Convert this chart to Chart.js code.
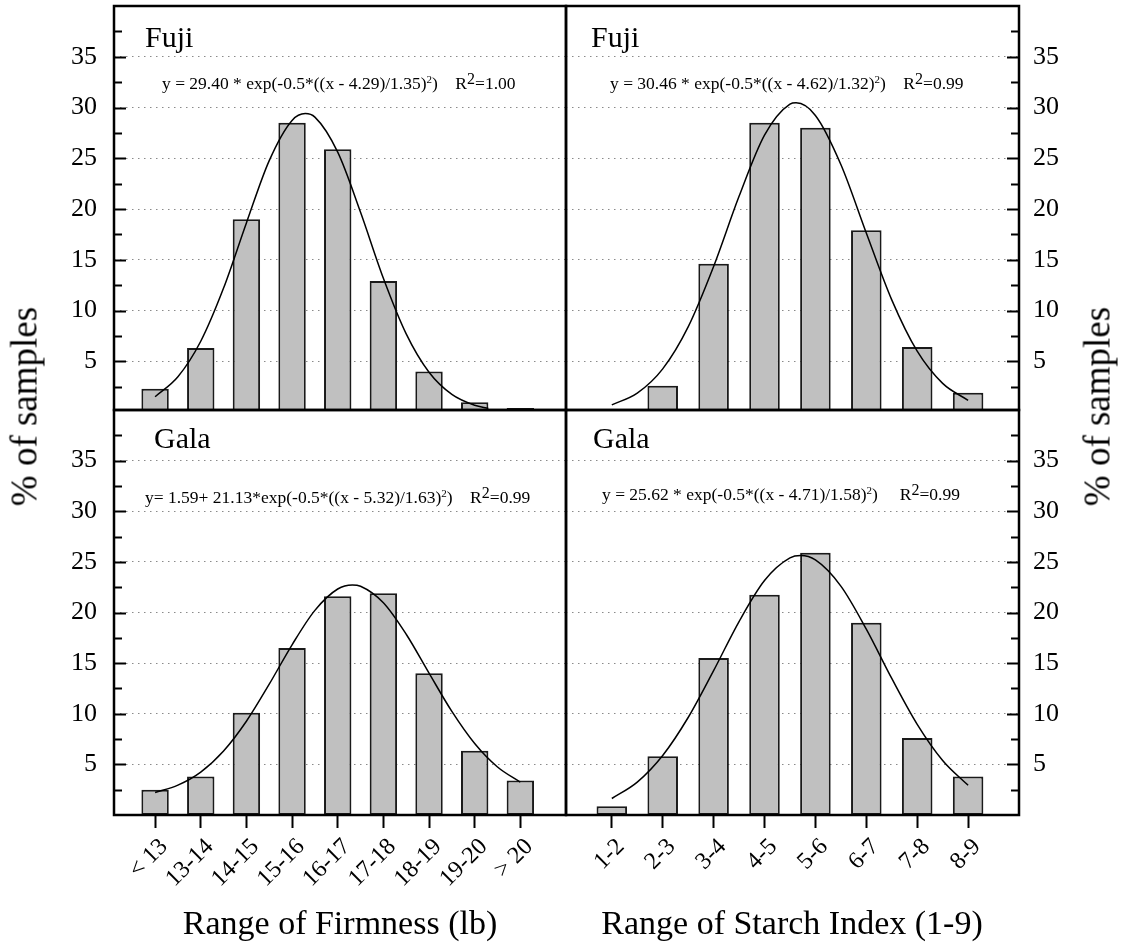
<!DOCTYPE html>
<html>
<head>
<meta charset="utf-8">
<script src="https://cdn.jsdelivr.net/npm/chart.js@4.4.0/dist/chart.umd.min.js"></script>
<style>
  body { margin: 0; background: #fff; }
  #wrap { position: relative; width: 1124px; height: 950px; font-family: 'Liberation Serif', 'Times New Roman', serif; color: #000; }
  #wrap canvas { position: absolute; left: 0; top: 0; }
  .lab { position: absolute; font-size: 30px; line-height: 1; white-space: nowrap; }
  .eq { position: absolute; font-size: 17.5px; line-height: 1; white-space: nowrap; }
  .eq sup { font-size: 11px; vertical-align: 6px; }
  .eq sup.big { font-size: 16px; vertical-align: 5px; }
  .ytitle { position: absolute; width: 300px; text-align: center; font-size: 37px; line-height: 37px; white-space: nowrap; transform: rotate(-90deg); }
  .xtitle { position: absolute; width: 452px; text-align: center; font-size: 34px; line-height: 1; white-space: nowrap; }
</style>
</head>
<body>
<div id="wrap">
  <canvas id="fujiFirm" width="1124" height="950"></canvas>
  <canvas id="fujiStarch" width="1124" height="950"></canvas>
  <canvas id="galaFirm" width="1124" height="950"></canvas>
  <canvas id="galaStarch" width="1124" height="950"></canvas>

  <div class="lab" style="left:145px;top:22px">Fuji</div>
  <div class="lab" style="left:591px;top:22px">Fuji</div>
  <div class="lab" style="left:154px;top:423px">Gala</div>
  <div class="lab" style="left:593px;top:423px">Gala</div>

  <div class="eq" style="left:162px;top:71px">y = 29.40 * exp(-0.5*((x - 4.29)/1.35)<sup>2</sup>)&nbsp;&nbsp;&nbsp; R<sup class="big">2</sup>=1.00</div>
  <div class="eq" style="left:610px;top:71px">y = 30.46 * exp(-0.5*((x - 4.62)/1.32)<sup>2</sup>)&nbsp;&nbsp;&nbsp; R<sup class="big">2</sup>=0.99</div>
  <div class="eq" style="left:145px;top:485px">y= 1.59+ 21.13*exp(-0.5*((x - 5.32)/1.63)<sup>2</sup>)&nbsp;&nbsp;&nbsp; R<sup class="big">2</sup>=0.99</div>
  <div class="eq" style="left:602px;top:482px">y = 25.62 * exp(-0.5*((x - 4.71)/1.58)<sup>2</sup>)&nbsp;&nbsp;&nbsp;&nbsp; R<sup class="big">2</sup>=0.99</div>

  <div class="ytitle" style="left:-126px;top:388px">% of samples</div>
  <div class="ytitle" style="left:947px;top:388px">% of samples</div>
  <div class="xtitle" style="left:114px;top:906px">Range of Firmness (lb)</div>
  <div class="xtitle" style="left:566px;top:906px">Range of Starch Index (1-9)</div>
</div>

<script>
// categories
var firmCats = ['< 13', '13-14', '14-15', '15-16', '16-17', '17-18', '18-19', '19-20', '> 20'];
var starchCats = ['1-2', '2-3', '3-4', '4-5', '5-6', '6-7', '7-8', '8-9'];

// % of samples per range
var fujiFirmVals = [2.3, 6.3, 19.0, 28.5, 25.9, 12.9, 4.0, 0.96, 0.4];
var fujiStarchVals = [null, 2.6, 14.6, 28.5, 28.0, 17.9, 6.4, 1.9];
var galaFirmVals = [2.5, 3.8, 10.1, 16.5, 21.6, 21.9, 14.0, 6.35, 3.4];
var galaStarchVals = [0.86, 5.8, 15.5, 21.75, 25.9, 19.0, 7.6, 3.8];

// fitted curves
var fujiFirmFitX = [1, 1.5, 2, 2.5, 3, 3.5, 4, 4.29, 4.5, 5, 5.5, 6, 6.5, 7, 7.5, 8, 8.3];
var fujiFirmFitY = [1.51, 3.47, 6.97, 12.21, 18.63, 24.77, 28.73, 29.40, 29.05, 25.60, 19.68, 13.18, 7.70, 3.92, 1.74, 0.67, 0.36];
var fujiStarchFitX = [1, 1.5, 2, 2.5, 3, 3.5, 4, 4.5, 4.62, 5, 5.5, 6, 6.5, 7, 7.5, 8];
var fujiStarchFitY = [0.71, 1.86, 4.25, 8.39, 14.34, 21.25, 27.28, 30.33, 30.46, 29.22, 24.39, 17.64, 11.05, 5.99, 2.82, 1.15];
var galaFirmFitX = [1, 1.5, 2, 2.5, 3, 3.5, 4, 4.5, 5, 5.32, 5.5, 6, 6.5, 7, 7.5, 8, 8.5, 9];
var galaFirmFitY = [2.22, 2.95, 4.24, 6.32, 9.26, 12.92, 16.81, 20.21, 22.32, 22.72, 22.59, 20.96, 17.85, 14.01, 10.23, 7.06, 4.74, 3.24];
var galaStarchFitX = [1, 1.5, 2, 2.5, 3, 3.5, 4, 4.5, 4.71, 5, 5.5, 6, 6.5, 7, 7.5, 8];
var galaStarchFitY = [1.63, 3.25, 5.88, 9.63, 14.26, 19.11, 23.16, 25.39, 25.62, 25.19, 22.61, 18.36, 13.49, 8.96, 5.39, 2.93];

var yTicks = [5, 10, 15, 20, 25, 30, 35];

Chart.defaults.font.family = "'Liberation Serif', 'Times New Roman', serif";
Chart.defaults.color = '#000';

// frame round the plot area + short inward ticks on the y side
var framePlugin = {
    id: 'frame',
    afterDraw: function(chart, args, opts) {
        var ctx = chart.ctx;
        var a = chart.chartArea;
        var y = chart.scales.y;
        ctx.save();
        ctx.strokeStyle = '#000';
        ctx.lineWidth = 2;
        for (var v = 2.5; v < 40; v += 2.5) {
            var py = Math.round(y.getPixelForValue(v)) + 0.5;
            if (py < a.top + 2 || py > a.bottom - 2) continue;
            var len = (v % 5 === 0) ? 12 : 8;
            ctx.beginPath();
            if (opts.side === 'left') {
                ctx.moveTo(a.left, py);
                ctx.lineTo(a.left + len, py);
            } else {
                ctx.moveTo(a.right, py);
                ctx.lineTo(a.right - len, py);
            }
            ctx.stroke();
        }
        ctx.lineWidth = 2.5;
        ctx.strokeRect(a.left, a.top, a.right - a.left, a.bottom - a.top);
        ctx.restore();
    }
};

function makePanel(id, cats, vals, fitX, fitY, box, side, showX, yMin) {
    var W = 1124, H = 950;
    var yAxisW = 60, xAxisH = 110;
    var bars = vals.map(function(v, i) { return {x: i + 1, y: v}; });
    var fit = fitX.map(function(x, i) { return {x: x, y: fitY[i]}; });

    var pad = {
        left: side === 'left' ? box.left - yAxisW : box.left,
        right: side === 'right' ? W - box.right - yAxisW : W - box.right,
        top: box.top,
        bottom: showX ? H - box.bottom - xAxisH : H - box.bottom
    };

    return new Chart(document.getElementById(id), {
        type: 'bar',
        data: {
            datasets: [
                {
                    type: 'line',
                    data: fit,
                    borderColor: '#000',
                    borderWidth: 1.5,
                    pointRadius: 0,
                    cubicInterpolationMode: 'monotone',
                    order: 0
                },
                {
                    type: 'bar',
                    data: bars,
                    backgroundColor: '#c0c0c0',
                    borderColor: '#1a1a1a',
                    borderWidth: 2,
                    borderSkipped: false,
                    barPercentage: 0.6,
                    categoryPercentage: 1,
                    order: 1
                }
            ]
        },
        options: {
            responsive: false,
            animation: false,
            devicePixelRatio: 1,
            layout: { padding: pad },
            plugins: {
                legend: { display: false },
                tooltip: { enabled: false },
                frame: { side: side }
            },
            scales: {
                x: {
                    type: 'linear',
                    position: 'bottom',
                    min: 0.1,
                    max: cats.length + 1,
                    offset: false,
                    display: showX,
                    afterBuildTicks: function(s) {
                        s.ticks = cats.map(function(c, i) { return {value: i + 1}; });
                    },
                    afterFit: function(s) {
                        s.height = showX ? xAxisH : 0;
                        s.paddingLeft = 0;
                        s.paddingRight = 0;
                    },
                    grid: {
                        display: true,
                        offset: false,
                        drawOnChartArea: false,
                        drawTicks: true,
                        tickLength: 13,
                        tickColor: '#000',
                        tickWidth: 2
                    },
                    border: { display: false },
                    ticks: {
                        autoSkip: false,
                        minRotation: 45,
                        maxRotation: 45,
                        padding: 5,
                        labelOffset: 9,
                        color: '#000',
                        font: { size: 24 },
                        callback: function(v, i) { return cats[i]; }
                    }
                },
                y: {
                    position: side,
                    min: yMin,
                    max: 40,
                    afterBuildTicks: function(s) {
                        s.ticks = yTicks.map(function(v) { return {value: v}; });
                    },
                    afterFit: function(s) {
                        s.width = yAxisW;
                        s.paddingTop = 0;
                        s.paddingBottom = 0;
                    },
                    grid: {
                        color: '#8a8a8a',
                        lineWidth: 1,
                        drawTicks: false
                    },
                    border: { display: false, dash: [1.5, 4.5] },
                    ticks: {
                        padding: side === 'left' ? 17 : 14,
                        color: '#000',
                        font: { size: 26 }
                    }
                }
            }
        },
        plugins: [framePlugin]
    });
}

makePanel('fujiFirm', firmCats, fujiFirmVals, fujiFirmFitX, fujiFirmFitY,
    {left: 114, top: 6, right: 566, bottom: 410}, 'left', false, 0.2);
makePanel('fujiStarch', starchCats, fujiStarchVals, fujiStarchFitX, fujiStarchFitY,
    {left: 566, top: 6, right: 1019, bottom: 410}, 'right', false, 0.2);
makePanel('galaFirm', firmCats, galaFirmVals, galaFirmFitX, galaFirmFitY,
    {left: 114, top: 410, right: 566, bottom: 815}, 'left', true, 0);
makePanel('galaStarch', starchCats, galaStarchVals, galaStarchFitX, galaStarchFitY,
    {left: 566, top: 410, right: 1019, bottom: 815}, 'right', true, 0);
</script>
</body>
</html>
